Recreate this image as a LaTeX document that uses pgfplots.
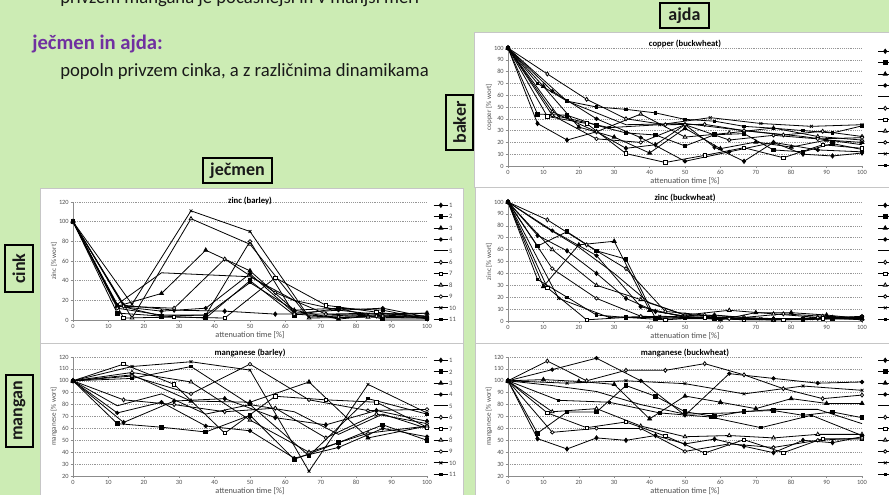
\documentclass[border=0pt]{standalone}
\usepackage{fontspec}
\setmainfont{Carlito}
\usepackage{pgfplots}
\pgfplotsset{compat=1.18}
\definecolor{bg}{RGB}{204,236,180}
\definecolor{purp}{RGB}{112,48,160}
\definecolor{gridc}{RGB}{150,150,150}
\definecolor{axc}{RGB}{140,140,140}
\definecolor{tickc}{RGB}{80,80,80}
\definecolor{txt}{RGB}{25,25,25}

\pgfplotscreateplotcyclelist{excel}{
 {black, mark=diamond*, mark size=1.6pt, mark options={solid,fill=black}},
 {black, mark=square*, mark size=1.4pt, mark options={solid,fill=black}},
 {black, mark=triangle*, mark size=1.7pt, mark options={solid,fill=black}},
 {black, mark=*, mark size=1.3pt, mark options={solid,fill=black}},
 {black, mark=none},
 {black, mark=diamond*, mark size=1.5pt, mark options={solid,fill=white}},
 {black, mark=square*, mark size=1.3pt, mark options={solid,fill=white}},
 {black, mark=triangle*, mark size=1.6pt, mark options={solid,fill=white}},
 {black, mark=*, mark size=1.3pt, mark options={solid,fill=white}},
 {black, mark=x, mark size=1.5pt, mark options={solid}},
 {black, mark=square*, mark size=0.9pt, mark options={solid,fill=black}},
}

\pgfplotsset{
  exc/.style={
    scale only axis, width=265.5pt,
    axis x line*=bottom, axis y line*=left,
    axis line style={draw=axc, line width=0.4pt},
    xmin=0, xmax=100, xtick={0,10,...,100},
    ymajorgrids, grid style={draw=gridc, densely dotted, line width=0.35pt},
    tick align=outside, major tick length=1.8pt,
    tick style={draw=axc, line width=0.4pt},
    /pgf/number format/assume math mode=true,
    tick label style={font=\fontsize{4.8}{5}\selectfont, text=tickc},
    xticklabel style={inner sep=1.2pt},
    yticklabel style={inner sep=1.2pt},
    title style={font=\bfseries\fontsize{6.5}{7}\selectfont, at={(0.5,1)}, anchor=south, inner sep=1pt, yshift=-7pt},
    xlabel style={font=\fontsize{6.2}{7}\selectfont, text=tickc, inner sep=0pt, yshift=-0.5pt},
    ylabel style={font=\fontsize{5.3}{6}\selectfont, text=tickc, inner sep=0pt},
    xlabel={attenuation time [\%]},
    cycle list name=excel,
    every axis plot/.append style={line width=0.6pt},
    clip=false,
    legend style={draw=none, fill=none, at={(1,1)}, anchor=north west, xshift=4.5pt,
      font=\fontsize{5}{5}\selectfont, inner sep=0pt, row sep=4.05pt,
      nodes={inner sep=0.5pt, text height=3.5pt, text depth=0pt, text=tickc}},
    legend cell align=left,
    legend image code/.code={\draw[mark repeat=2,mark phase=2,##1] plot coordinates {(0cm,0cm) (0.19cm,0cm) (0.38cm,0cm)};},
  },
  bw/.style={legend style={xshift=7pt}},
}

\begin{document}
\begin{tikzpicture}
\begin{scope}[x=0.75pt,y=-0.75pt]
\fill[bg] (0,0) rectangle (889,495);
% panels
\filldraw[fill=white, draw=gray!45, line width=0.5pt] (40,188) rectangle (463,343);
\filldraw[fill=white, draw=gray!45, line width=0.5pt] (40,343) rectangle (463,500);
\filldraw[fill=white, draw=gray!45, line width=0.5pt] (474,32) rectangle (895,187);
\filldraw[fill=white, draw=gray!45, line width=0.5pt] (475,187) rectangle (895,343);
\filldraw[fill=white, draw=gray!45, line width=0.5pt] (475,343) rectangle (895,500);
% texts
\node[anchor=base west, inner sep=0, text=txt, font=\fontsize{14}{16}\selectfont] at (60,4) {privzem mangana je počasnejši in v manjši meri};
\node[anchor=base west, inner sep=0, text=purp, font=\bfseries\fontsize{15.5}{17}\selectfont] at (32,50) {ječmen in ajda:};
\node[anchor=base west, inner sep=0, text=txt, font=\fontsize{14}{16}\selectfont] at (60,77) {popoln privzem cinka, a z različnima dinamikama};
% anchors for axes
\coordinate (P1) at (508,166);
\coordinate (P2) at (508,321);
\coordinate (P3) at (73,320);
\coordinate (P4) at (73,476);
\coordinate (P5) at (508,476);
\end{scope}

% ---------------- copper (buckwheat)
\begin{axis}[exc, bw, at={(P1)}, anchor=south west, height=88.5pt,
  ymin=0, ymax=100, ytick={0,10,...,100},
  title={copper (buckwheat)}, ylabel={copper [\% wort]}]
\addplot coordinates {(0,100)(8.33,36)(16.67,22)(25,29)(33.33,15)(41.67,18)(50,35)(58.33,16)(66.67,4)(75,20)(83.33,10)(91.67,8.5)(100,11)};
\addplot coordinates {(0,100)(8.33,44)(16.67,43)(25,34.5)(33.33,28)(41.67,26.3)(50,17)(58.33,26.5)(66.67,27.4)(75,13.6)(83.33,12)(91.67,19)(100,14)};
\addplot coordinates {(0,100)(10,67.5)(20,33)(30,24.5)(40,11)(50,32)(60,14.7)(70,20.3)(80,16)(90,22)(100,20)};
\addplot coordinates {(0,100)(12.5,63.5)(25,40)(37.5,24)(50,4)(62.5,12)(75,20)(87.5,13.6)(100,12)};
\addplot coordinates {(0,100)(16.67,55)(33.33,35)(50,36)(66.67,30)(83.33,25)(100,18)};
\addplot coordinates {(0,100)(11.11,78)(22.22,56.5)(33.33,40)(44.44,35)(55.56,35.3)(66.67,30)(77.78,26.3)(88.89,29.4)(100,25)};
\addplot coordinates {(0,100)(11.11,42)(22.22,36)(33.33,10.5)(44.44,3)(55.56,9)(66.67,15.5)(77.78,7)(88.89,18)(100,15)};
\addplot coordinates {(0,100)(12.5,46)(25,29)(37.5,44)(50,24.5)(62.5,28)(75,32.2)(87.5,25)(100,22)};
\addplot coordinates {(0,100)(12.5,43)(25,23)(37.5,20)(50,35)(62.5,22)(75,26)(87.5,23)(100,24)};
\addplot coordinates {(0,100)(14.29,42)(28.57,32.5)(42.86,35)(57.14,41)(71.43,36)(85.71,33.6)(100,35)};
\addplot coordinates {(0,100)(8.33,70)(16.67,55)(25,50)(33.33,48)(41.67,45)(50,39.5)(58.33,38)(66.67,33.6)(75,32)(83.33,30)(91.67,28)(100,34)};
\legend{1,2,3,4,5,6,7,8,9,10,11}
\end{axis}

% ---------------- zinc (buckwheat)
\begin{axis}[exc, bw, at={(P2)}, anchor=south west, height=89.25pt,
  ymin=0, ymax=100, ytick={0,10,...,100},
  title={zinc (buckwheat)}, ylabel={zinc [\% wort]}]
\addplot coordinates {(0,100)(8.33,72)(16.67,59)(25,40)(33.33,19)(41.67,8)(50,4)(58.33,5)(66.67,3)(75,2)(83.33,2)(91.67,3)(100,3)};
\addplot coordinates {(0,100)(8.33,63)(16.67,75)(25,59)(33.33,52)(41.67,2)(50,3)(58.33,2)(66.67,1)(75,1)(83.33,1)(91.67,2)(100,3)};
\addplot coordinates {(0,100)(10,29)(20,64)(30,67)(40,9)(50,4)(60,1)(70,7)(80,7)(90,5)(100,2)};
\addplot coordinates {(0,100)(12.5,76)(25,55)(37.5,12)(50,3)(62.5,2)(75,1)(87.5,2)(100,4)};
\addplot coordinates {(0,100)(10,80)(20,62)(30,40)(40,15)(50,5)(60,3)(70,2)(80,2)(90,2)(100,2)};
\addplot coordinates {(0,100)(11.11,85)(22.22,64)(33.33,44)(44.44,8)(55.56,5)(66.67,3)(77.78,6)(88.89,4)(100,3)};
\addplot coordinates {(0,100)(11.11,28)(22.22,1)(33.33,3)(44.44,1)(55.56,3)(66.67,1)(77.78,1)(88.89,2)(100,2)};
\addplot coordinates {(0,100)(12.5,60)(25,30)(37.5,18)(50,5)(62.5,9)(75,6)(87.5,3)(100,2)};
\addplot coordinates {(0,100)(12.5,44)(25,19)(37.5,4)(50,3)(62.5,2)(75,1)(87.5,3)(100,1)};
\addplot coordinates {(0,100)(14.29,19)(28.57,3)(42.86,4)(57.14,3)(71.43,2)(85.71,2)(100,2)};
\addplot coordinates {(0,100)(8.33,35)(16.67,20)(25,5)(33.33,3)(41.67,3)(50,2)(58.33,2)(66.67,2)(75,2)(83.33,2)(91.67,2)(100,2)};
\legend{1,2,3,4,5,6,7,8,9,10,11}
\end{axis}

% ---------------- zinc (barley)
\begin{axis}[exc, at={(P3)}, anchor=south west, height=88.5pt,
  ymin=0, ymax=120, ytick={0,20,...,120},
  title={zinc (barley)}, title style={yshift=-2.3pt}, ylabel={zinc [\% wort]}]
\addplot coordinates {(0,100)(14.29,15)(28.57,10)(42.86,9)(57.14,6)(71.43,6)(85.71,7)(100,4)};
\addplot coordinates {(0,100)(12.5,7)(25,4)(37.5,2)(50,40)(62.5,5)(75,12)(87.5,1)(100,1)};
\addplot coordinates {(0,100)(12.5,14)(25,27)(37.5,71)(50,50)(62.5,10)(75,1)(87.5,5)(100,7)};
\addplot coordinates {(0,100)(12.5,14)(25,9)(37.5,12)(50,47)(62.5,7)(75,10)(87.5,12)(100,3)};
\addplot coordinates {(0,100)(12.5,16)(25,48)(37.5,46)(50,44)(62.5,20)(75,10)(87.5,5)(100,3)};
\addplot coordinates {(0,100)(14.29,14)(28.57,12)(42.86,62)(57.14,28)(71.43,6)(85.71,4)(100,3)};
\addplot coordinates {(0,100)(14.29,2)(28.57,3)(42.86,2)(57.14,43)(71.43,15)(85.71,8)(100,2)};
\addplot coordinates {(0,100)(16.67,2)(33.33,103)(50,77)(66.67,2)(83.33,3)(100,2)};
\addplot coordinates {(0,100)(12.5,12)(25,5)(37.5,5)(50,80)(62.5,6)(75,3)(87.5,4)(100,2)};
\addplot coordinates {(0,100)(16.67,16)(33.33,111)(50,90)(66.67,3)(83.33,6)(100,7)};
\addplot coordinates {(0,100)(12.5,15)(25,4)(37.5,5)(50,38)(62.5,10)(75,12)(87.5,10)(100,1)};
\legend{1,2,3,4,5,6,7,8,9,10,11}
\end{axis}

% ---------------- manganese (barley)
\begin{axis}[exc, at={(P4)}, anchor=south west, height=89.25pt,
  ymin=20, ymax=120, ytick={20,30,...,120},
  title={manganese (barley)}, ylabel={manganese [\% wort]}]
\addplot coordinates {(0,100)(14.29,65)(28.57,83)(42.86,85)(57.14,69)(71.43,63)(85.71,75)(100,66)};
\addplot coordinates {(0,100)(12.5,64)(25,61)(37.5,57)(50,71)(62.5,34)(75,48)(87.5,63)(100,50)};
\addplot coordinates {(0,100)(16.67,105)(33.33,83)(50,82)(66.67,99)(83.33,52)(100,62)};
\addplot coordinates {(0,100)(12.5,73)(25,82)(37.5,62)(50,58)(62.5,35)(75,44)(87.5,60)(100,53)};
\addplot coordinates {(0,100)(12.5,79)(25,89)(37.5,72)(50,80)(62.5,74)(75,55)(87.5,72)(100,60)};
\addplot coordinates {(0,100)(14.29,84)(28.57,80)(42.86,74)(57.14,77)(71.43,52)(85.71,72)(100,64)};
\addplot coordinates {(0,100)(14.29,114)(28.57,97)(42.86,56)(57.14,87)(71.43,84)(85.71,82)(100,61)};
\addplot coordinates {(0,100)(16.67,107)(33.33,99)(50,67)(66.67,40)(83.33,56)(100,62)};
\addplot coordinates {(0,100)(16.67,104)(33.33,89)(50,114)(66.67,84)(83.33,75)(100,76)};
\addplot coordinates {(0,100)(16.67,112)(33.33,116)(50,109)(66.67,24)(83.33,97)(100,73)};
\addplot coordinates {(0,100)(16.67,102)(33.33,112)(50,80)(66.67,37)(83.33,85)(100,72)};
\legend{1,2,3,4,5,6,7,8,9,10,11}
\end{axis}

% ---------------- manganese (buckwheat)
\begin{axis}[exc, bw, at={(P5)}, anchor=south west, height=89.25pt,
  ymin=20, ymax=120, ytick={20,30,...,120},
  title={manganese (buckwheat)}, ylabel={manganese [\% wort]}]
\addplot coordinates {(0,100)(8.33,51.4)(16.67,42.7)(25,52)(33.33,50)(41.67,54)(50,47)(58.33,51)(66.67,45)(75,39.6)(83.33,50)(91.67,48)(100,53)};
\addplot coordinates {(0,100)(8.33,56)(16.67,73.8)(25,73.8)(33.33,96)(41.67,87)(50,74)(58.33,70)(66.67,74.3)(75,75)(83.33,71)(91.67,73.8)(100,69)};
\addplot coordinates {(0,100)(10,101)(20,99.5)(30,97)(40,68)(50,87.2)(60,82)(70,76.6)(80,85)(90,81)(100,81)};
\addplot coordinates {(0,100)(12.5,109.4)(25,119)(37.5,100)(50,71)(62.5,106)(75,102)(87.5,98)(100,99)};
\addplot coordinates {(0,100)(12.5,96)(25,91)(37.5,80)(50,72)(62.5,73)(75,76)(87.5,76)(100,64)};
\addplot coordinates {(0,100)(11.11,116.6)(22.22,100)(33.33,108.8)(44.44,108.8)(55.56,114.4)(66.67,105)(77.78,93.4)(88.89,85)(100,88)};
\addplot coordinates {(0,100)(11.11,73)(22.22,60.6)(33.33,65.4)(44.44,53.6)(55.56,39.3)(66.67,50.5)(77.78,39.6)(88.89,51.4)(100,51)};
\addplot coordinates {(0,100)(12.5,74)(25,76.6)(37.5,62)(50,53)(62.5,54)(75,52)(87.5,55)(100,55)};
\addplot coordinates {(0,100)(12.5,56.7)(25,60)(37.5,60)(50,40.7)(62.5,47)(75,44)(87.5,50)(100,52)};
\addplot coordinates {(0,100)(16.67,98)(33.33,100)(50,97.6)(66.67,89)(83.33,95.6)(100,92)};
\addplot coordinates {(0,100)(14.29,83.6)(28.57,82)(42.86,73)(57.14,69.6)(71.43,60.6)(85.71,71)(100,54)};
\legend{1,2,3,4,5,6,7,8,9,10,11}
\end{axis}

% labels in boxes
\begin{scope}[x=0.75pt,y=-0.75pt]
\filldraw[fill=bg, draw=black, line width=1.3pt] (660,3) rectangle (709,28);
\node[font=\bfseries\fontsize{13.5}{14}\selectfont, text=txt] at (684.5,15.5) {ajda};
\filldraw[fill=bg, draw=black, line width=1.3pt] (203,158) rectangle (272,183);
\node[font=\bfseries\fontsize{13.5}{14}\selectfont, text=txt] at (237.5,170.5) {ječmen};
\filldraw[fill=bg, draw=black, line width=1.3pt] (446,95) rectangle (473,150);
\node[rotate=90, font=\bfseries\fontsize{13.5}{14}\selectfont, text=txt] at (459.5,122.5) {baker};
\filldraw[fill=bg, draw=black, line width=1.3pt] (5,245) rectangle (33,292);
\node[rotate=90, font=\bfseries\fontsize{13.5}{14}\selectfont, text=txt] at (19,268.5) {cink};
\filldraw[fill=bg, draw=black, line width=1.3pt] (6,375) rectangle (33,447);
\node[rotate=90, font=\bfseries\fontsize{13.5}{14}\selectfont, text=txt] at (19.5,411) {mangan};
\end{scope}

\pgfresetboundingbox
\begin{scope}[x=0.75pt,y=-0.75pt]
\useasboundingbox (0,0) rectangle (889,495);
\end{scope}
\end{tikzpicture}
\end{document}
